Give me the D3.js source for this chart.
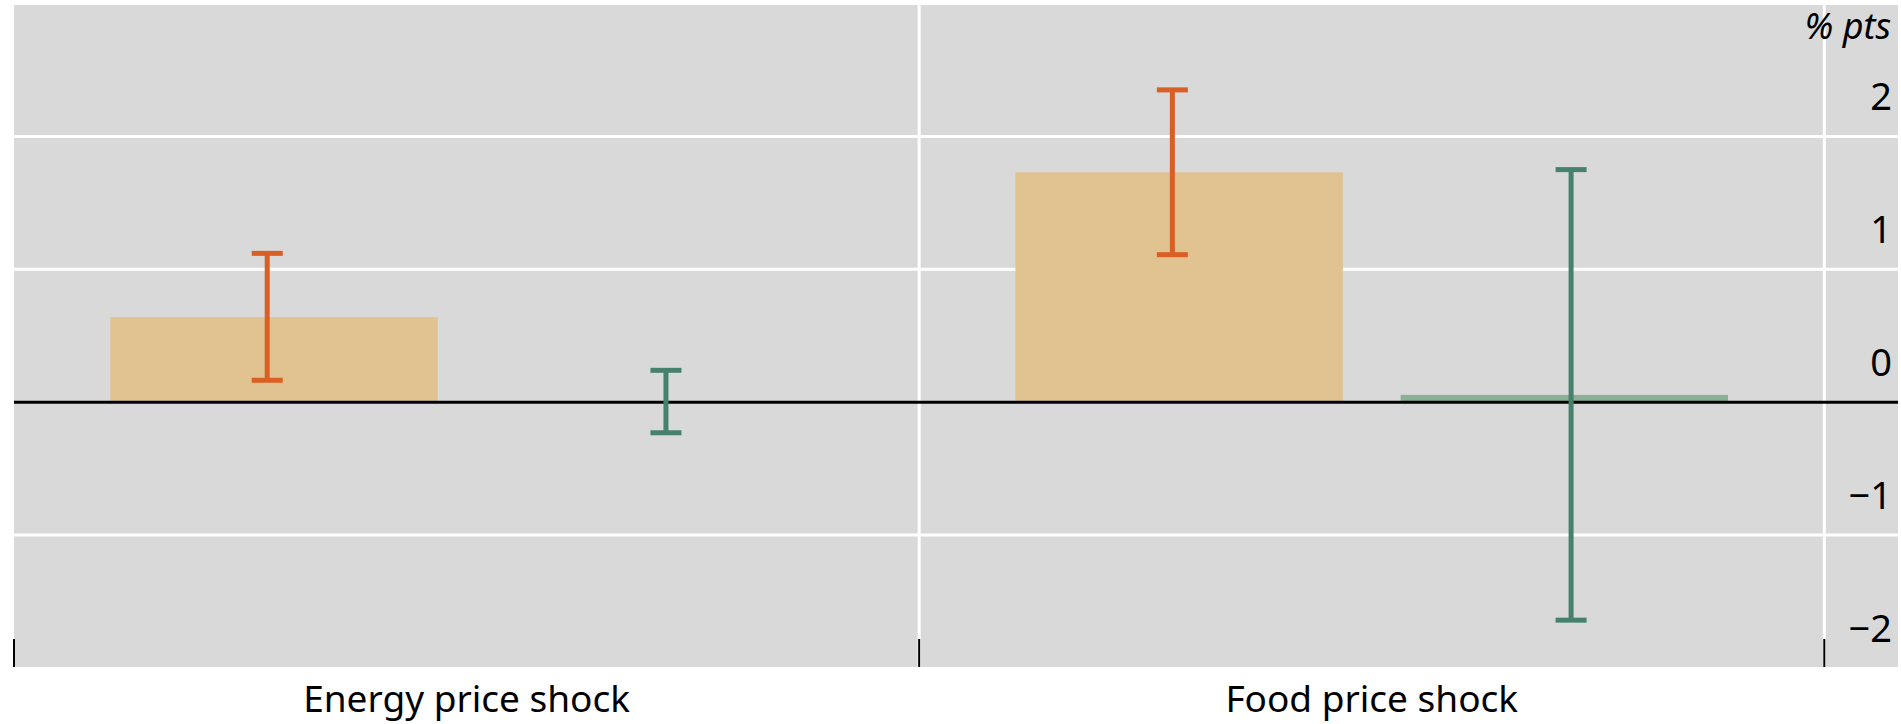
<!DOCTYPE html>
<html>
<head>
<meta charset="utf-8">
<script src="https://cdn.jsdelivr.net/npm/d3@7"></script>
<style>
  body { margin: 0; background: #fff; }
  text { font-family: "Noto Sans", "Open Sans", sans-serif; fill: #000; }
</style>
</head>
<body>
<div id="chart"></div>
<script>
// Chart data
var categories = ["Energy price shock", "Food price shock"];
var seriesNames = ["Series A", "Series B"];
var barA = [0.64, 1.73];
var barB = [0.0, 0.055];
var errALow = [0.165, 1.11];
var errAHigh = [1.12, 2.35];
var errBLow = [-0.23, -1.64];
var errBHigh = [0.24, 1.75];
var yTicks = [-2, -1, 0, 1, 2];
var yGrid = [-1, 1, 2];
var unitLabel = "% pts";

// SVG area
var svgWidth = 1901;
var svgHeight = 724;

var plot = { left: 14, right: 1898, top: 5, bottom: 667, catRight: 1824.3 };

var svg = d3.select("#chart")
  .append("svg")
  .attr("width", svgWidth)
  .attr("height", svgHeight);

// scales
var xScale = d3.scaleBand()
  .domain(categories)
  .range([plot.left, plot.catRight]);

var xBar = d3.scaleBand()
  .domain(seriesNames)
  .range([0, xScale.bandwidth()])
  .paddingInner(0.15)
  .paddingOuter(0.25);

var xErr = d3.scalePoint()
  .domain(seriesNames)
  .range([0, xScale.bandwidth()])
  .padding(0.635);

var yScale = d3.scaleLinear()
  .domain([-2, 3])
  .range([668, 3.5]);

// background
svg.append("rect")
  .attr("x", plot.left)
  .attr("y", plot.top)
  .attr("width", plot.right - plot.left)
  .attr("height", plot.bottom - plot.top)
  .attr("fill", "#d9d9d9");

// horizontal gridlines
svg.selectAll(".hgrid")
  .data(yGrid)
  .enter()
  .append("line")
  .attr("x1", plot.left)
  .attr("x2", plot.right)
  .attr("y1", d => yScale(d))
  .attr("y2", d => yScale(d))
  .attr("stroke", "#fff")
  .attr("stroke-width", 3);

// vertical separators between categories
var sepX = categories.slice(1).map(c => xScale(c)).concat([plot.catRight]);
svg.selectAll(".vgrid")
  .data(sepX)
  .enter()
  .append("line")
  .attr("x1", d => d)
  .attr("x2", d => d)
  .attr("y1", plot.top)
  .attr("y2", plot.bottom)
  .attr("stroke", "#fff")
  .attr("stroke-width", 3);

// bars
var barRows = [];
categories.forEach(function(c, i) {
  barRows.push({ cat: c, series: seriesNames[0], value: barA[i], color: "#e1c291" });
  barRows.push({ cat: c, series: seriesNames[1], value: barB[i], color: "#8ab096" });
});

svg.selectAll(".bar")
  .data(barRows)
  .enter()
  .append("rect")
  .attr("class", "bar")
  .attr("x", d => xScale(d.cat) + xBar(d.series))
  .attr("width", xBar.bandwidth())
  .attr("y", d => yScale(Math.max(0, d.value)))
  .attr("height", d => Math.abs(yScale(d.value) - yScale(0)))
  .attr("fill", d => d.color);

// zero line
svg.append("line")
  .attr("x1", plot.left)
  .attr("x2", plot.right)
  .attr("y1", yScale(0))
  .attr("y2", yScale(0))
  .attr("stroke", "#000")
  .attr("stroke-width", 3);

// error bars
var errRows = [];
categories.forEach(function(c, i) {
  errRows.push({ cat: c, series: seriesNames[0], lo: errALow[i], hi: errAHigh[i], color: "#d95f24" });
  errRows.push({ cat: c, series: seriesNames[1], lo: errBLow[i], hi: errBHigh[i], color: "#45816c" });
});

var capHalf = 15.5;
var errGroups = svg.selectAll(".err")
  .data(errRows)
  .enter()
  .append("g")
  .attr("class", "err")
  .attr("transform", d => `translate(${xScale(d.cat) + xErr(d.series)}, 0)`);

errGroups.append("line")
  .attr("x1", 0).attr("x2", 0)
  .attr("y1", d => yScale(d.hi))
  .attr("y2", d => yScale(d.lo))
  .attr("stroke", d => d.color)
  .attr("stroke-width", 5);

errGroups.append("line")
  .attr("x1", -capHalf).attr("x2", capHalf)
  .attr("y1", d => yScale(d.hi))
  .attr("y2", d => yScale(d.hi))
  .attr("stroke", d => d.color)
  .attr("stroke-width", 5);

errGroups.append("line")
  .attr("x1", -capHalf).attr("x2", capHalf)
  .attr("y1", d => yScale(d.lo))
  .attr("y2", d => yScale(d.lo))
  .attr("stroke", d => d.color)
  .attr("stroke-width", 5);

// bottom ticks at category edges
var tickX = [plot.left].concat(sepX);
svg.selectAll(".xtick")
  .data(tickX)
  .enter()
  .append("line")
  .attr("x1", d => d)
  .attr("x2", d => d)
  .attr("y1", 639)
  .attr("y2", plot.bottom)
  .attr("stroke", "#000")
  .attr("stroke-width", 2);

// category labels
svg.selectAll(".xlabel")
  .data(categories)
  .enter()
  .append("text")
  .attr("x", d => xScale(d) + xScale.bandwidth() / 2)
  .attr("y", 712)
  .attr("text-anchor", "middle")
  .style("font-size", "37px")
  .text(d => d);

// y tick labels, sitting just above their gridlines
var fmt = d3.format("d");
svg.selectAll(".ylabel")
  .data(yTicks)
  .enter()
  .append("text")
  .attr("x", 1892)
  .attr("y", d => yScale(d) - 26)
  .attr("text-anchor", "end")
  .style("font-size", "38px")
  .text(d => fmt(d));

svg.append("text")
  .attr("x", 1891)
  .attr("y", 39)
  .attr("text-anchor", "end")
  .style("font-size", "36px")
  .style("font-style", "italic")
  .text(unitLabel);
</script>
</body>
</html>
